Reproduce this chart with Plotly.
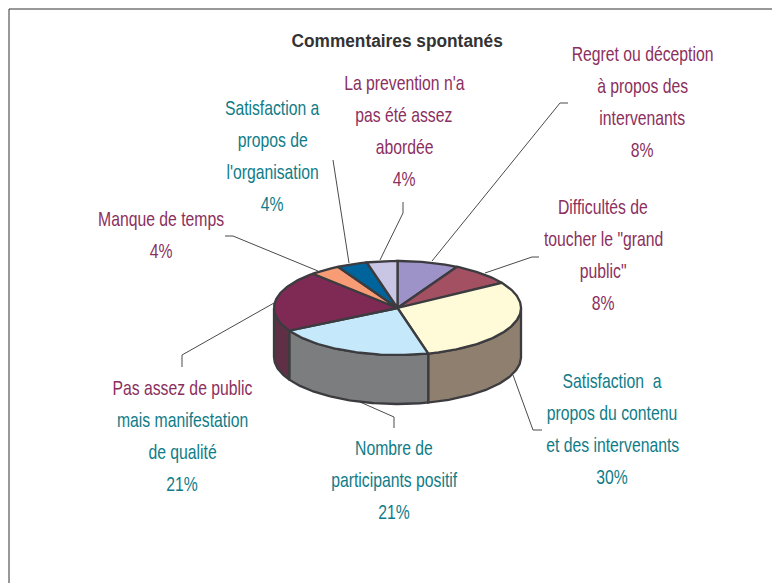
import numpy as np
import plotly.graph_objects as go

# ---- data -------------------------------------------------------------
title_text = "Commentaires spontanés"
categories = [
    "Regret ou déception à propos des intervenants",
    "Difficultés de toucher le \"grand public\"",
    "Satisfaction a propos du contenu et des intervenants",
    "Nombre de participants positif",
    "Pas assez de public mais manifestation de qualité",
    "Manque de temps",
    "Satisfaction a propos de l'organisation",
    "La prevention n'a pas été assez abordée",
]
values = [8, 8, 30, 21, 21, 4, 4, 4]
top_colors = ["#9D93C8", "#A35062", "#FFFAD8", "#C5E9FB", "#7F2A55", "#F79C75", "#00649C", "#C9C5E4"]
wall_colors = ["#6E6790", "#743945", "#8F7F6E", "#7C7D7F", "#5E2F45", "#A86D52", "#00466E", "#8D8AA0"]

PLUM = "#8B2F5E"
TEAL = "#0F7C88"
label_lines = [
    [("Regret ou déception", PLUM), ("à propos des", PLUM), ("intervenants", PLUM), ("8%", PLUM)],
    [("Difficultés de", PLUM), ("toucher le \"grand", PLUM), ("public\"", PLUM), ("8%", PLUM)],
    [("Satisfaction  a", TEAL), ("propos du contenu", TEAL), ("et des intervenants", TEAL), ("30%", TEAL)],
    [("Nombre de", TEAL), ("participants positif", TEAL), ("21%", TEAL)],
    [("Pas assez de public", PLUM), ("mais manifestation", TEAL), ("de qualité", TEAL), ("21%", TEAL)],
    [("Manque de temps", PLUM), ("4%", PLUM)],
    [("Satisfaction a", TEAL), ("propos de", TEAL), ("l'organisation", TEAL), ("4%", TEAL)],
    [("La prevention n'a", PLUM), ("pas été assez", PLUM), ("abordée", PLUM), ("4%", PLUM)],
]
# ---- layout (pixel space of the hidden axes) ---------------------------
CX, CY, RX, RY, DEPTH = 397.5, 308.0, 123.5, 47.0, 49.0
label_x = [642, 603, 612, 394, 182, 161, 272, 404]
label_y0 = [53, 206, 380, 447, 387, 218, 107, 82]
LINE_STEP = 32.3
leaders = [
    [(432, 261), (560, 103), (568, 103)],
    [(485, 273), (532, 257), (539, 257)],
    [(513, 375), (533, 430), (542, 430)],
    [(360, 402), (394, 417), (394, 428)],
    [(274, 303), (182, 355), (182, 367)],
    [(318, 271), (233, 236), (225, 236)],
    [(349, 263), (333, 160)],
    [(380, 260), (403, 213), (403, 202)],
]

fig = go.Figure()


def arc(a0, a1, dy=0.0):
    t = np.radians(np.linspace(a0, a1, max(int(abs(a1 - a0)), 2) + 1))
    return CX + RX * np.sin(t), CY + dy - RY * np.cos(t)


angles = np.concatenate([[0], np.cumsum(values)]) / sum(values) * 360.0

# side walls (only the front half of the disc is visible)
for i, col in enumerate(wall_colors):
    a0, a1 = max(angles[i], 90.0), min(angles[i + 1], 270.0)
    if a1 <= a0:
        continue
    xt, yt = arc(a0, a1)
    xb, yb = arc(a1, a0, DEPTH)
    fig.add_trace(go.Scatter(
        x=np.r_[xt, xb, xt[0]], y=np.r_[yt, yb, yt[0]], mode="lines", fill="toself",
        fillcolor=col, line=dict(color="#3C3C40", width=2.3), hoverinfo="skip", showlegend=False))

# top surface
for i, col in enumerate(top_colors):
    xa, ya = arc(angles[i], angles[i + 1])
    fig.add_trace(go.Scatter(
        x=np.r_[CX, xa, CX], y=np.r_[CY, ya, CY], mode="lines", fill="toself",
        fillcolor=col, line=dict(color="#3C3C40", width=2.3), name=categories[i],
        hoverinfo="name", showlegend=False))

shapes = [
    dict(type="line", xref="x", yref="y", x0=9, y0=583, x1=9, y1=9, line=dict(color="#333333", width=1)),
    dict(type="line", xref="x", yref="y", x0=9, y0=9, x1=780, y1=9, line=dict(color="#333333", width=1)),
]
for pts in leaders:
    for (x0, y0), (x1, y1) in zip(pts[:-1], pts[1:]):
        shapes.append(dict(type="line", xref="x", yref="y", x0=x0, y0=y0, x1=x1, y1=y1, layer="below",
                           line=dict(color="#4A4A4A", width=1)))

annotations = [dict(x=397, y=40, xref="x", yref="y", text="<b>%s</b>" % title_text, showarrow=False,
                    font=dict(family="Liberation Sans", size=19, color="#333333"))]
for lines, lx, ly in zip(label_lines, label_x, label_y0):
    for k, (txt, col) in enumerate(lines):
        annotations.append(dict(x=lx, y=ly + k * LINE_STEP, xref="x", yref="y", text=txt, showarrow=False,
                                xanchor="center", yanchor="middle",
                                font=dict(family="Liberation Sans", size=21, color=col)))

# The page has the browser's 8 px body margin, so the figure covers 8..780 / 8..583.
fig.update_layout(
    width=772, height=575, margin=dict(l=0, r=0, t=0, b=0),
    paper_bgcolor="white", plot_bgcolor="white",
    xaxis=dict(range=[8, 780], visible=False, fixedrange=True),
    yaxis=dict(range=[583, 8], visible=False, fixedrange=True),
    shapes=shapes, annotations=annotations, showlegend=False,
)
# The reference's labels use a condensed sans: narrow the real text horizontally.
narrow = """
var gd = document.getElementById('{plot_id}');
gd.querySelectorAll('.annotation-text').forEach(function (t) {
  var isTitle = t.textContent.indexOf('Commentaires') === 0;
  t.style.transformBox = 'fill-box';
  t.style.transformOrigin = 'center';
  t.style.transform = isTitle ? 'scaleX(0.91)' : 'scaleX(0.75)';
});
"""
fig.write_html("out.html", config=dict(displayModeBar=False), post_script=narrow)
